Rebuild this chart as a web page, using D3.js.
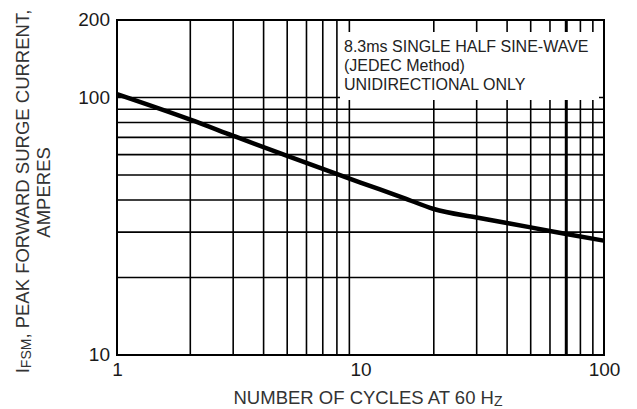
<!DOCTYPE html>
<html><head><meta charset="utf-8">
<script src="https://cdn.jsdelivr.net/npm/d3@7"></script>
<style>
html,body{margin:0;padding:0;background:#fff;overflow:hidden;}
text{font-family:"Liberation Sans",Arial,Helvetica,sans-serif;fill:#1a1a1a;}
</style></head>
<body><svg id="c" width="637" height="409"></svg>
<script>
// Data
const cycles  = [1, 2, 3, 5, 10, 15, 20, 30, 50, 70, 100];
const current = [103, 82, 71, 59.3, 46.7, 40.8, 36.9, 34.2, 31.3, 29.5, 27.8];
const xTickLabels = [1, 10, 100];
const yTickLabels = [10, 100, 200];
const xGrid = [2,3,4,5,6,7,8,9,20,30,40,50,60,70,80,90];
const yGrid = [20,30,40,50,60,70,80,90,100];
const noteLines = ["8.3ms SINGLE HALF SINE-WAVE", "(JEDEC Method)", "UNIDIRECTIONAL ONLY"];

const svg = d3.select("#c");
const L = 117, R = 604, T = 20, B = 355;
const x = d3.scaleLog().domain([1,100]).range([L,R]);
const y = d3.scaleLog().domain([10,200]).range([B,T]);

// grid
const g = svg.append("g");
g.selectAll("line.vx").data(xGrid).enter().append("line")
  .attr("x1", d=>x(d)).attr("x2", d=>x(d)).attr("y1", T).attr("y2", B)
  .attr("stroke", "#000").attr("stroke-width", d=> d===70 ? 3 : 1.6);
g.selectAll("line.hy").data(yGrid).enter().append("line")
  .attr("x1", L).attr("x2", R).attr("y1", d=>y(d)).attr("y2", d=>y(d))
  .attr("stroke", "#000").attr("stroke-width", 1.6);

// annotation box
svg.append("rect").attr("x", 340).attr("y", 32).attr("width", 259).attr("height", 68).attr("fill", "#fff");
svg.append("g").selectAll("text").data(noteLines).enter().append("text")
  .attr("x", 344).attr("y", (d,i)=>51.5 + i*19)
  .attr("font-size", "16px").style("fill","#222").text(d=>d);

// border
svg.append("rect").attr("x", L).attr("y", T).attr("width", R-L).attr("height", B-T)
  .attr("fill", "none").attr("stroke", "#000").attr("stroke-width", 2);

// curve
const line = d3.line().x((d,i)=>x(cycles[i])).y(d=>y(d)).curve(d3.curveMonotoneX);
svg.append("path").datum(current).attr("d", line)
  .attr("fill","none").attr("stroke","#000").attr("stroke-width",4.5)
  .attr("stroke-linejoin","round").attr("stroke-linecap","butt");

// axes labels
const xa = d3.axisBottom(x).tickValues(xTickLabels).tickSize(0).tickPadding(0).tickFormat(d3.format("d"));
const xg = svg.append("g").attr("transform", `translate(0,${B})`).call(xa);
xg.select(".domain").remove();
xg.selectAll("text").attr("y", 21).attr("dy", 0).attr("font-size","19px").attr("font-family",null);

const ya = d3.axisLeft(y).tickValues(yTickLabels).tickSize(0).tickPadding(0).tickFormat(d3.format("d"));
const yg = svg.append("g").attr("transform", `translate(${L},0)`).call(ya);
yg.select(".domain").remove();
yg.selectAll("text").attr("x", -7).attr("dy", "0.3em").attr("font-size","19px").attr("font-family",null);

// x title
const xt = svg.append("text").attr("x", 368).attr("y", 404).attr("text-anchor","middle").attr("font-size","18.5px").style("fill","#333");
xt.append("tspan").text("NUMBER OF CYCLES AT 60 H");
xt.append("tspan").attr("font-size","14px").attr("dy", 2).text("Z");

// y title
const yt1 = svg.append("text").attr("transform","translate(28.5,191.5) rotate(-90)").attr("text-anchor","middle").attr("font-size","18.5px").style("fill","#333");
yt1.append("tspan").text("I");
yt1.append("tspan").attr("font-size","14px").attr("dy", 2).text("FSM");
yt1.append("tspan").attr("dy", -2).text(", PEAK FORWARD SURGE CURRENT,");
svg.append("text").attr("transform","translate(50,192.4) rotate(-90)").attr("text-anchor","middle").attr("font-size","18.5px").style("fill","#333").text("AMPERES");
</script></body></html>
